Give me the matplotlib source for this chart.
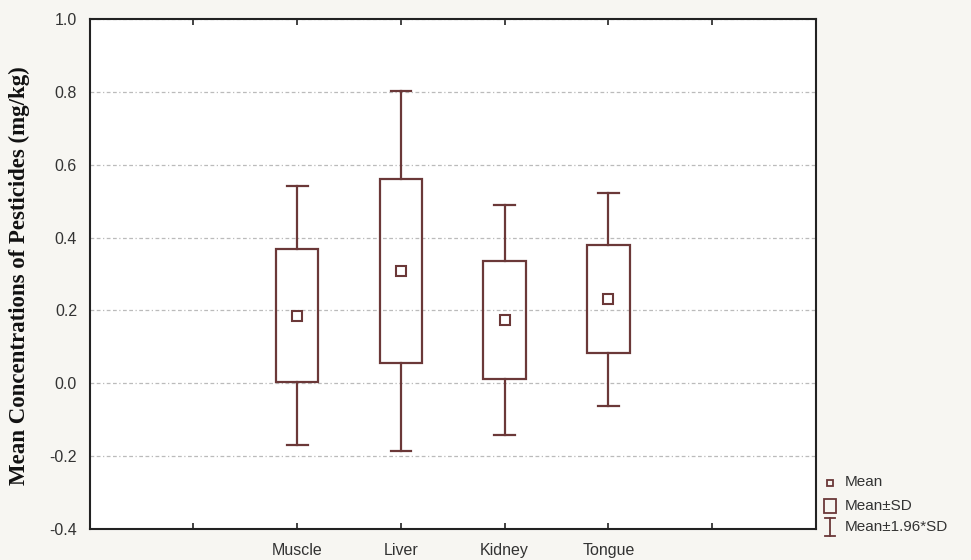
import matplotlib
matplotlib.use("Agg")
import matplotlib.pyplot as plt
from matplotlib.patches import Rectangle
from matplotlib.lines import Line2D

categories = ["Muscle", "Liver", "Kidney", "Tongue"]
means = [0.186, 0.309, 0.174, 0.231]
sds = [0.182, 0.252, 0.161, 0.149]
cat_positions = [2, 3, 4, 5]
yticks = [-0.4, -0.2, 0.0, 0.2, 0.4, 0.6, 0.8, 1.0]

col = "#6b3838"
bg = "#f7f6f2"

fig = plt.figure(figsize=(9.71, 5.6), dpi=100, facecolor=bg)
ax = fig.add_axes([89.6 / 971, 1 - 529 / 560, (816 - 89.6) / 971, (529 - 19) / 560])
ax.set_facecolor("white")

box_w = 0.41
cap_w = 0.2
for x, m, s in zip(cat_positions, means, sds):
    lo1, hi1 = m - s, m + s
    lo2, hi2 = m - 1.96 * s, m + 1.96 * s
    ax.add_patch(Rectangle((x - box_w / 2, lo1), box_w, hi1 - lo1, fill=False,
                           edgecolor=col, lw=1.6, zorder=3))
    ax.plot([x, x], [hi1, hi2], color=col, lw=1.6, zorder=3)
    ax.plot([x, x], [lo1, lo2], color=col, lw=1.6, zorder=3)
    ax.plot([x - cap_w / 2, x + cap_w / 2], [hi2, hi2], color=col, lw=1.6, zorder=3)
    ax.plot([x - cap_w / 2, x + cap_w / 2], [lo2, lo2], color=col, lw=1.6, zorder=3)
    ax.plot([x], [m], marker="s", ms=6.5, mfc="white", mec=col, mew=1.5, zorder=4)

ax.set_xlim(0, 7)
ax.set_ylim(-0.4, 1.0)
ax.set_xticks([1, 2, 3, 4, 5, 6])
ax.set_xticklabels([""] + categories + [""], fontsize=11.5, family="Liberation Sans", color="#333333")
ax.set_yticks(yticks)
ax.set_yticklabels([f"{v:.1f}" for v in yticks], fontsize=11.5, family="Liberation Sans", color="#333333")
ax.tick_params(axis="both", direction="in", length=4, width=1.2, color="#222222")
ax.tick_params(axis="x", top=True, pad=10)
ax.tick_params(axis="y", length=0, pad=9)
for sp in ax.spines.values():
    sp.set_linewidth(1.5)
    sp.set_color("#222222")

ax.yaxis.grid(True, color="#bbbbbb", linestyle=(0, (3, 2, 3, 2, 1, 2)), lw=0.9, zorder=0)
ax.set_axisbelow(True)

fig.text(0.009, (1 - 276 / 560), "Mean Concentrations of Pesticides (mg/kg)",
         rotation=90, va="center", ha="left", family="Liberation Serif",
         fontweight="bold", fontsize=16.5, color="#111111")

# legend (outside right, bottom)
def fx(px):
    return px / 971

def fy(py):
    return 1 - py / 560

tx = fx(845)
fig.add_artist(Rectangle((fx(827), fy(486)), fx(6), 6 / 560, fill=False,
                         edgecolor=col, lw=1.3, transform=fig.transFigure))
fig.text(tx, fy(482), "Mean", fontsize=11, family="Liberation Sans", va="center", color="#333333")
fig.add_artist(Rectangle((fx(824), fy(513)), fx(12), 14 / 560, fill=False,
                         edgecolor=col, lw=1.3, transform=fig.transFigure))
fig.text(tx, fy(506), "Mean±SD", fontsize=11, family="Liberation Sans", va="center", color="#333333")
fig.add_artist(Line2D([fx(830), fx(830)], [fy(518), fy(536)], color=col, lw=1.3, transform=fig.transFigure))
fig.add_artist(Line2D([fx(825), fx(835)], [fy(518), fy(518)], color=col, lw=1.3, transform=fig.transFigure))
fig.add_artist(Line2D([fx(825), fx(835)], [fy(536), fy(536)], color=col, lw=1.3, transform=fig.transFigure))
fig.text(tx, fy(527), "Mean±1.96*SD", fontsize=11, family="Liberation Sans", va="center", color="#333333")

fig.savefig("out.png", dpi=100, facecolor=bg)
